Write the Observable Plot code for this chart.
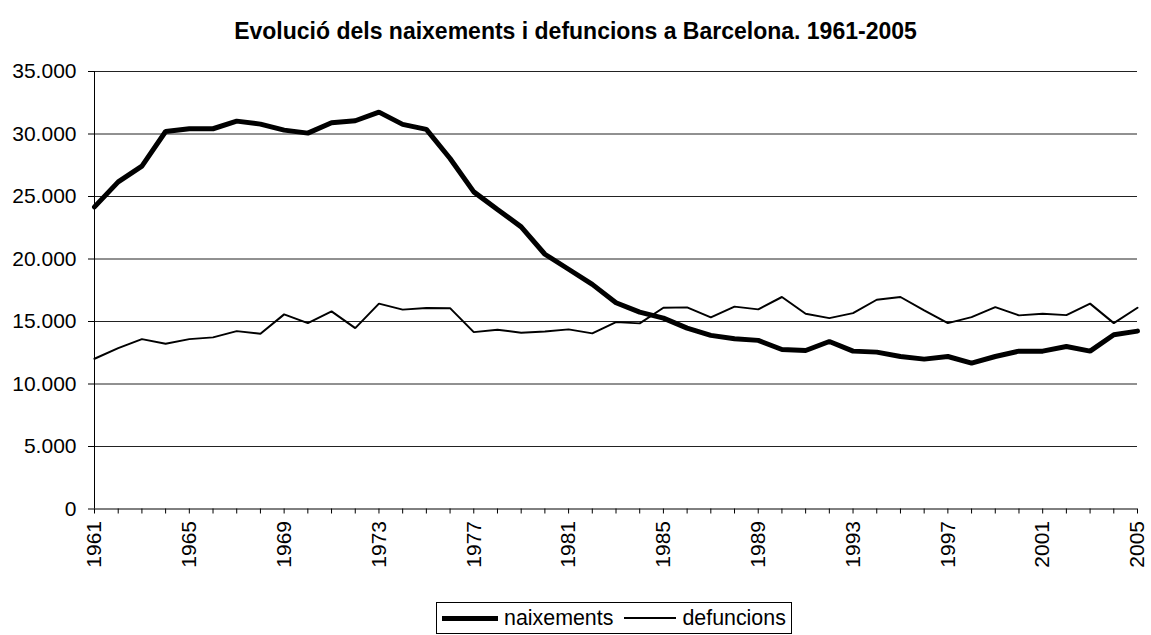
<!DOCTYPE html>
<html>
<head>
<meta charset="utf-8">
<script src="https://cdn.jsdelivr.net/npm/d3@7"></script>
<script src="https://cdn.jsdelivr.net/npm/@observablehq/plot@0.6"></script>
<style>
  html, body { margin: 0; padding: 0; background: #fff; font-family: "Liberation Sans", Arial, sans-serif; }
  #wrap { width: 1151px; }
  #title { height: 50px; line-height: 62px; text-align: center; font-weight: bold; font-size: 23px; color: #000; white-space: nowrap; }
  #chart svg { display: block; }
  #legendRow { height: 40px; padding-top: 7px; box-sizing: border-box; }
  #legend { margin-left: 436px; height: 32px; border: 1px solid #000; box-sizing: border-box;
            display: inline-flex; align-items: center; padding: 0 5px 0 5px; font-size: 21.4px; color: #000; }
  .sw { display: inline-block; background: #000; margin-right: 6px; }
  .item { display: inline-flex; align-items: center; margin-right: 11px; }
  .item:last-child { margin-right: 0; }
</style>
</head>
<body>
<div id="wrap">
  <div id="title">Evolució dels naixements i defuncions a Barcelona. 1961-2005</div>
  <div id="chart"></div>
  <div id="legendRow"><div id="legend"></div></div>
</div>
<script>
const years = d3.range(1961, 2006);
const naixements = [24170, 26170, 27430, 30200, 30420, 30420, 31030, 30790, 30310, 30070,
  30900, 31060, 31750, 30770, 30370, 28040, 25370, 23960, 22570, 20380,
  19180, 17970, 16500, 15750, 15270, 14470, 13890, 13620, 13490, 12760,
  12680, 13400, 12630, 12550, 12200, 11990, 12200, 11670, 12200, 12630,
  12630, 13000, 12630, 13940, 14230];
const defuncions = [12020, 12870, 13590, 13220, 13590, 13730, 14230, 14020, 15570, 14870,
  15810, 14470, 16430, 15950, 16080, 16070, 14150, 14340, 14100, 14200,
  14370, 14050, 14950, 14850, 16100, 16130, 15330, 16190, 15970, 16960,
  15620, 15270, 15670, 16740, 16960, 15890, 14870, 15350, 16150, 15490,
  15620, 15510, 16430, 14870, 16100];
const seriesNames = ["naixements", "defuncions"];
const yTicks = d3.range(0, 35001, 5000);
const xLabelYears = d3.range(1961, 2006, 4);

const rows = [];
years.forEach((y, i) => {
  rows.push({year: y, value: naixements[i], serie: seriesNames[0]});
  rows.push({year: y, value: defuncions[i], serie: seriesNames[1]});
});

const fmt = d3.formatLocale({decimal: ",", thousands: ".", grouping: [3], currency: ["", "€"]}).format(",");

const chart = Plot.plot({
  width: 1151,
  height: 545,
  marginTop: 21,
  marginLeft: 94,
  marginRight: 14,
  marginBottom: 86.5,
  style: {fontFamily: "Liberation Sans, Arial, sans-serif", fontSize: "21px", color: "#000", background: "#fff"},
  x: {domain: [1961, 2005]},
  y: {domain: [0, 35000]},
  marks: [
    Plot.ruleY(yTicks.filter(d => d > 0), {stroke: "#222", strokeWidth: 1, x1: 1961, x2: 2005}),
    Plot.axisY({ticks: yTicks, tickFormat: fmt, tickSize: 6, tickPadding: 12, label: null, stroke: "#000", strokeOpacity: 1, fontSize: 21}),
    Plot.axisX({ticks: years, tickFormat: () => "", tickSize: 5, label: null, strokeOpacity: 1}),
    Plot.axisX({ticks: xLabelYears, tickFormat: d => String(d), tickSize: 0, tickPadding: 12, tickRotate: -90, label: null, fontSize: 21}),
    Plot.ruleX([1961], {y1: 0, y2: 35000, stroke: "#000"}),
    Plot.ruleY([0], {stroke: "#000"}),
    Plot.line(rows.filter(d => d.serie === seriesNames[1]), {x: "year", y: "value", stroke: "#000", strokeWidth: 2, strokeLinejoin: "miter"}),
    Plot.line(rows.filter(d => d.serie === seriesNames[0]), {x: "year", y: "value", stroke: "#000", strokeWidth: 5, strokeLinejoin: "miter"})
  ]
});
document.getElementById("chart").appendChild(chart);

const legend = document.getElementById("legend");
seriesNames.forEach((name, i) => {
  const item = document.createElement("div");
  item.className = "item";
  const sw = document.createElement("span");
  sw.className = "sw";
  sw.style.height = (i === 0 ? 5 : 2) + "px";
  sw.style.width = (i === 0 ? 56 : 52) + "px";
  item.appendChild(sw);
  const t = document.createElement("span");
  t.textContent = name;
  item.appendChild(t);
  legend.appendChild(item);
});
</script>
</body>
</html>
